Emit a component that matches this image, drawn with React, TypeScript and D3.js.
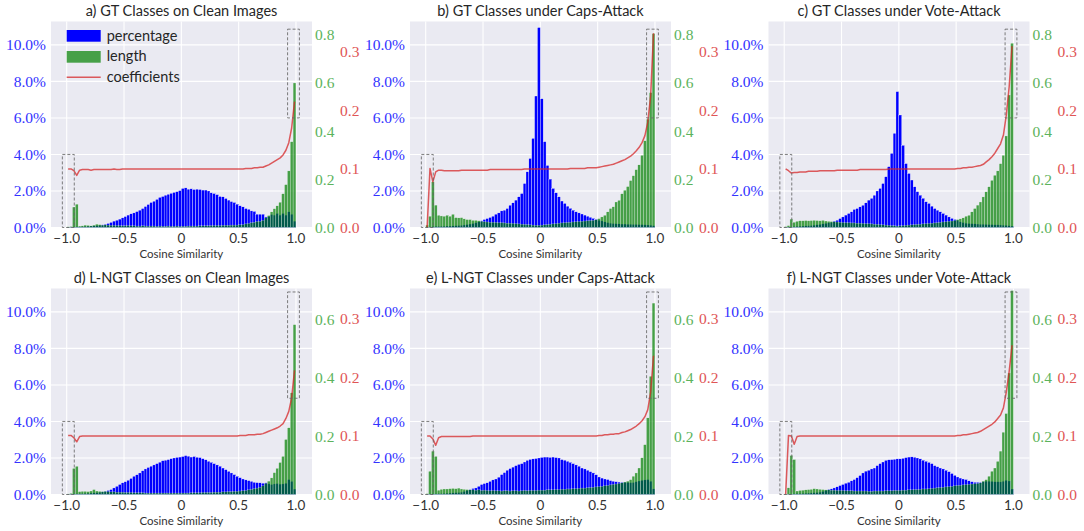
import React from 'react';
import * as d3 from 'd3';

// ---------- histogram bins (cosine similarity) ----------
const BIN_START = -1;
const BIN_WIDTH = 0.025;
const BIN_COUNT = 80;
const binLeft: number[] = d3.range(BIN_COUNT).map((i) => BIN_START + i * BIN_WIDTH);
const binCenter: number[] = binLeft.map((b) => b + BIN_WIDTH / 2);

// ---------- ticks ----------
const xTicks = [-1, -0.5, 0, 0.5, 1];
const xTickLabels = ['−1.0', '−0.5', '0', '0.5', '1.0'];
const pctTicks = [0, 2, 4, 6, 8, 10];
const lenTicksRow1 = [0, 0.2, 0.4, 0.6, 0.8];
const lenTicksRow2 = [0, 0.2, 0.4, 0.6];
const coefTicks = [0, 0.1, 0.2, 0.3];

const titles = [
  'a) GT Classes on Clean Images',
  'b) GT Classes under Caps-Attack',
  'c) GT Classes under Vote-Attack',
  'd) L-NGT Classes on Clean Images',
  'e) L-NGT Classes under Caps-Attack',
  'f) L-NGT Classes under Vote-Attack',
];
const legendLabels = ['percentage', 'length', 'coefficients'];
const xLabel = 'Cosine Similarity';

// ---------- a) GT clean ----------
const pctA = [
  0.02, 0.03, 0.04, 0.04, 0.04, 0.05, 0.06, 0.07, 0.08, 0.09,
  0.10, 0.12, 0.15, 0.18, 0.22, 0.28, 0.35, 0.40, 0.46, 0.53,
  0.60, 0.68, 0.75, 0.80, 0.87, 0.95, 1.04, 1.15, 1.26, 1.37,
  1.44, 1.54, 1.65, 1.70, 1.77, 1.82, 1.87, 1.92, 1.96, 2.02,
  2.14, 2.17, 2.10, 2.12, 2.08, 2.10, 2.08, 2.05, 2.05, 2.00,
  1.90, 1.86, 1.80, 1.70, 1.68, 1.59, 1.50, 1.42, 1.37, 1.28,
  1.19, 1.13, 1.04, 1.00, 0.91, 0.88, 0.73, 0.73, 0.73, 0.58,
  0.60, 0.71, 0.68, 0.77, 0.68, 0.77, 0.68, 0.86, 0.73, 0.35,
];
const lenA = [
  0.003, 0.004, 0.085, 0.097, 0.006, 0.007, 0.010, 0.009, 0.007, 0.010,
  0.014, 0.012, 0.010, 0.011, 0.010, 0.009, 0.009, 0.008, 0.008, 0.007,
  0.007, 0.008, 0.007, 0.007, 0.006, 0.006, 0.007, 0.006, 0.006, 0.006,
  0.006, 0.005, 0.006, 0.005, 0.005, 0.006, 0.005, 0.005, 0.006, 0.005,
  0.005, 0.005, 0.006, 0.006, 0.006, 0.006, 0.007, 0.007, 0.007, 0.007,
  0.008, 0.008, 0.008, 0.008, 0.009, 0.009, 0.009, 0.010, 0.010, 0.010,
  0.011, 0.012, 0.015, 0.017, 0.020, 0.022, 0.025, 0.026, 0.030, 0.040,
  0.050, 0.065, 0.078, 0.090, 0.105, 0.140, 0.178, 0.235, 0.356, 0.600,
];
const coefA = [
  0.100, 0.100, 0.097, 0.089, 0.098, 0.099, 0.099, 0.099, 0.098, 0.099,
  0.099, 0.099, 0.099, 0.099, 0.099, 0.099, 0.100, 0.099, 0.099, 0.100,
  0.100, 0.100, 0.100, 0.100, 0.100, 0.100, 0.100, 0.100, 0.100, 0.100,
  0.100, 0.100, 0.100, 0.100, 0.100, 0.100, 0.100, 0.100, 0.100, 0.100,
  0.100, 0.100, 0.100, 0.100, 0.100, 0.100, 0.100, 0.100, 0.100, 0.100,
  0.100, 0.100, 0.100, 0.100, 0.100, 0.100, 0.100, 0.100, 0.100, 0.100,
  0.100, 0.100, 0.101, 0.101, 0.101, 0.102, 0.102, 0.103, 0.103, 0.105,
  0.107, 0.110, 0.113, 0.116, 0.119, 0.124, 0.132, 0.145, 0.170, 0.215,
];

// ---------- b) GT caps-attack ----------
const pctB = [
  0.01, 0.03, 0.05, 0.06, 0.06, 0.07, 0.07, 0.08, 0.08, 0.09,
  0.10, 0.11, 0.12, 0.14, 0.16, 0.19, 0.22, 0.26, 0.31, 0.37,
  0.44, 0.49, 0.55, 0.62, 0.73, 0.80, 0.91, 0.95, 1.04, 1.22,
  1.35, 1.50, 1.68, 1.86, 2.41, 3.05, 3.78, 4.88, 7.20, 10.95,
  7.05, 4.70, 3.40, 2.65, 2.14, 1.90, 1.68, 1.45, 1.32, 1.17,
  1.05, 0.95, 0.86, 0.80, 0.74, 0.68, 0.62, 0.56, 0.50, 0.45,
  0.40, 0.36, 0.31, 0.27, 0.24, 0.22, 0.21, 0.20, 0.19, 0.19,
  0.18, 0.18, 0.17, 0.17, 0.16, 0.16, 0.15, 0.14, 0.13, 0.10,
];
const lenB = [
  0.010, 0.047, 0.190, 0.093, 0.051, 0.048, 0.047, 0.051, 0.047, 0.055,
  0.041, 0.040, 0.041, 0.036, 0.033, 0.033, 0.030, 0.030, 0.028, 0.026,
  0.024, 0.023, 0.022, 0.022, 0.021, 0.020, 0.020, 0.019, 0.018, 0.018,
  0.017, 0.016, 0.015, 0.014, 0.013, 0.012, 0.011, 0.010, 0.009, 0.009,
  0.010, 0.011, 0.012, 0.014, 0.015, 0.016, 0.018, 0.019, 0.020, 0.021,
  0.022, 0.023, 0.024, 0.025, 0.026, 0.027, 0.028, 0.029, 0.030, 0.032,
  0.037, 0.044, 0.051, 0.065, 0.079, 0.086, 0.106, 0.113, 0.140, 0.155,
  0.170, 0.195, 0.215, 0.240, 0.260, 0.300, 0.360, 0.450, 0.560, 0.805,
];
const coefB = [
  0.000, 0.101, 0.078, 0.095, 0.098, 0.098, 0.097, 0.097, 0.097, 0.097,
  0.097, 0.097, 0.098, 0.098, 0.098, 0.098, 0.098, 0.098, 0.098, 0.098,
  0.098, 0.098, 0.099, 0.099, 0.099, 0.099, 0.099, 0.099, 0.099, 0.099,
  0.099, 0.099, 0.099, 0.099, 0.100, 0.100, 0.100, 0.100, 0.100, 0.100,
  0.100, 0.100, 0.100, 0.100, 0.100, 0.100, 0.100, 0.100, 0.100, 0.100,
  0.101, 0.101, 0.101, 0.101, 0.101, 0.101, 0.102, 0.102, 0.102, 0.102,
  0.103, 0.104, 0.105, 0.106, 0.107, 0.108, 0.110, 0.112, 0.114, 0.116,
  0.119, 0.122, 0.126, 0.131, 0.137, 0.145, 0.157, 0.180, 0.225, 0.332,
];

// ---------- c) GT vote-attack ----------
const pctC = [
  0.02, 0.03, 0.04, 0.05, 0.06, 0.07, 0.08, 0.09, 0.10, 0.11,
  0.13, 0.15, 0.17, 0.20, 0.23, 0.26, 0.29, 0.35, 0.40, 0.49,
  0.58, 0.68, 0.77, 0.86, 0.99, 1.04, 1.13, 1.22, 1.35, 1.50,
  1.60, 1.77, 2.00, 2.14, 2.41, 2.78, 3.33, 4.06, 5.16, 7.44,
  6.16, 4.50, 3.50, 2.96, 2.60, 2.23, 1.96, 1.77, 1.60, 1.41,
  1.32, 1.17, 1.04, 0.95, 0.86, 0.77, 0.68, 0.58, 0.50, 0.44,
  0.40, 0.31, 0.27, 0.24, 0.22, 0.21, 0.20, 0.19, 0.18, 0.18,
  0.17, 0.16, 0.16, 0.15, 0.15, 0.14, 0.13, 0.12, 0.10, 0.08,
];
const lenC = [
  0.004, 0.008, 0.035, 0.022, 0.026, 0.028, 0.028, 0.029, 0.028, 0.029,
  0.030, 0.029, 0.028, 0.030, 0.027, 0.026, 0.025, 0.024, 0.023, 0.022,
  0.021, 0.020, 0.020, 0.019, 0.019, 0.018, 0.018, 0.017, 0.016, 0.016,
  0.015, 0.014, 0.013, 0.012, 0.011, 0.010, 0.009, 0.008, 0.007, 0.006,
  0.007, 0.008, 0.009, 0.010, 0.011, 0.012, 0.013, 0.014, 0.015, 0.016,
  0.017, 0.018, 0.019, 0.020, 0.022, 0.023, 0.024, 0.026, 0.027, 0.029,
  0.033, 0.036, 0.040, 0.047, 0.051, 0.065, 0.079, 0.093, 0.106, 0.127,
  0.148, 0.169, 0.196, 0.217, 0.235, 0.265, 0.300, 0.380, 0.550, 0.765,
];
const coefC = [
  0.100, 0.097, 0.093, 0.094, 0.094, 0.095, 0.095, 0.095, 0.096, 0.096,
  0.096, 0.096, 0.097, 0.097, 0.097, 0.097, 0.097, 0.097, 0.098, 0.098,
  0.098, 0.098, 0.098, 0.098, 0.098, 0.098, 0.099, 0.099, 0.099, 0.099,
  0.099, 0.099, 0.099, 0.099, 0.099, 0.099, 0.100, 0.100, 0.100, 0.100,
  0.100, 0.100, 0.100, 0.100, 0.100, 0.100, 0.100, 0.100, 0.100, 0.100,
  0.100, 0.100, 0.100, 0.100, 0.100, 0.100, 0.100, 0.100, 0.100, 0.100,
  0.101, 0.101, 0.102, 0.102, 0.103, 0.103, 0.104, 0.105, 0.106, 0.108,
  0.112, 0.116, 0.121, 0.127, 0.135, 0.143, 0.158, 0.192, 0.240, 0.310,
];

// ---------- d) L-NGT clean ----------
const pctD = [
  0.02, 0.03, 0.04, 0.04, 0.05, 0.05, 0.06, 0.07, 0.08, 0.09,
  0.10, 0.12, 0.15, 0.18, 0.22, 0.27, 0.36, 0.45, 0.55, 0.64,
  0.70, 0.78, 0.88, 1.00, 1.08, 1.18, 1.30, 1.40, 1.48, 1.55,
  1.62, 1.69, 1.77, 1.85, 1.88, 1.91, 1.96, 2.00, 2.03, 2.05,
  2.08, 2.13, 2.10, 2.05, 2.08, 2.04, 2.02, 1.96, 1.90, 1.82,
  1.76, 1.69, 1.62, 1.55, 1.45, 1.36, 1.27, 1.18, 1.09, 1.00,
  0.92, 0.85, 0.80, 0.76, 0.72, 0.67, 0.65, 0.64, 0.62, 0.64,
  0.58, 0.55, 0.58, 0.60, 0.57, 0.58, 0.62, 0.82, 0.72, 0.30,
];
const lenD = [
  0.002, 0.004, 0.090, 0.097, 0.010, 0.011, 0.011, 0.010, 0.012, 0.017,
  0.012, 0.011, 0.010, 0.011, 0.010, 0.009, 0.009, 0.008, 0.008, 0.008,
  0.007, 0.007, 0.007, 0.006, 0.006, 0.006, 0.006, 0.005, 0.005, 0.005,
  0.005, 0.005, 0.005, 0.005, 0.005, 0.005, 0.005, 0.005, 0.005, 0.005,
  0.005, 0.005, 0.005, 0.006, 0.006, 0.006, 0.006, 0.007, 0.007, 0.007,
  0.007, 0.008, 0.008, 0.008, 0.009, 0.009, 0.010, 0.010, 0.011, 0.011,
  0.012, 0.013, 0.014, 0.016, 0.018, 0.020, 0.022, 0.025, 0.030, 0.038,
  0.046, 0.057, 0.075, 0.090, 0.110, 0.131, 0.189, 0.229, 0.349, 0.583,
];
const coefD = [
  0.101, 0.101, 0.097, 0.090, 0.099, 0.100, 0.100, 0.100, 0.100, 0.100,
  0.100, 0.100, 0.100, 0.100, 0.100, 0.100, 0.100, 0.100, 0.100, 0.100,
  0.100, 0.100, 0.100, 0.100, 0.100, 0.100, 0.100, 0.100, 0.100, 0.100,
  0.100, 0.100, 0.100, 0.100, 0.100, 0.100, 0.100, 0.100, 0.100, 0.100,
  0.100, 0.100, 0.100, 0.100, 0.100, 0.100, 0.100, 0.100, 0.100, 0.100,
  0.100, 0.100, 0.100, 0.100, 0.100, 0.100, 0.100, 0.100, 0.100, 0.100,
  0.101, 0.101, 0.101, 0.102, 0.102, 0.102, 0.103, 0.103, 0.104, 0.106,
  0.108, 0.110, 0.112, 0.114, 0.117, 0.121, 0.130, 0.142, 0.165, 0.212,
];

// ---------- e) L-NGT caps-attack ----------
const pctE = [
  0.02, 0.03, 0.04, 0.04, 0.05, 0.05, 0.06, 0.07, 0.08, 0.09,
  0.10, 0.11, 0.13, 0.17, 0.22, 0.27, 0.33, 0.36, 0.45, 0.55,
  0.60, 0.64, 0.72, 0.80, 0.85, 0.95, 1.09, 1.20, 1.33, 1.42,
  1.50, 1.58, 1.65, 1.69, 1.78, 1.87, 1.92, 1.95, 1.97, 2.00,
  2.03, 2.05, 2.05, 2.03, 2.05, 2.02, 2.00, 1.91, 1.88, 1.82,
  1.76, 1.69, 1.62, 1.55, 1.45, 1.40, 1.33, 1.25, 1.18, 1.08,
  0.96, 0.90, 0.85, 0.82, 0.76, 0.73, 0.70, 0.68, 0.67, 0.67,
  0.66, 0.65, 0.66, 0.70, 0.74, 0.78, 0.80, 0.82, 0.73, 0.31,
];
const lenE = [
  0.003, 0.080, 0.149, 0.131, 0.015, 0.018, 0.019, 0.019, 0.020, 0.021,
  0.020, 0.022, 0.019, 0.018, 0.017, 0.016, 0.016, 0.015, 0.016, 0.014,
  0.015, 0.014, 0.013, 0.014, 0.013, 0.013, 0.012, 0.013, 0.013, 0.012,
  0.013, 0.013, 0.012, 0.013, 0.014, 0.013, 0.014, 0.014, 0.014, 0.015,
  0.015, 0.015, 0.016, 0.016, 0.016, 0.017, 0.017, 0.018, 0.018, 0.019,
  0.019, 0.020, 0.020, 0.021, 0.022, 0.022, 0.023, 0.024, 0.025, 0.026,
  0.027, 0.028, 0.030, 0.031, 0.033, 0.035, 0.036, 0.038, 0.040, 0.043,
  0.046, 0.051, 0.063, 0.074, 0.091, 0.126, 0.171, 0.263, 0.406, 0.657,
];
const coefE = [
  0.100, 0.100, 0.095, 0.084, 0.097, 0.099, 0.099, 0.099, 0.099, 0.099,
  0.099, 0.099, 0.099, 0.099, 0.099, 0.099, 0.100, 0.100, 0.100, 0.100,
  0.100, 0.100, 0.100, 0.100, 0.100, 0.100, 0.100, 0.100, 0.100, 0.100,
  0.100, 0.100, 0.100, 0.100, 0.100, 0.100, 0.100, 0.100, 0.100, 0.100,
  0.100, 0.100, 0.100, 0.100, 0.100, 0.100, 0.100, 0.100, 0.100, 0.100,
  0.100, 0.100, 0.100, 0.100, 0.100, 0.100, 0.100, 0.100, 0.100, 0.100,
  0.101, 0.101, 0.102, 0.102, 0.103, 0.103, 0.104, 0.104, 0.106, 0.107,
  0.109, 0.111, 0.114, 0.117, 0.121, 0.126, 0.133, 0.145, 0.175, 0.237,
];

// ---------- f) L-NGT vote-attack ----------
const pctF = [
  0.01, 0.02, 0.03, 0.04, 0.05, 0.05, 0.06, 0.07, 0.08, 0.09,
  0.10, 0.11, 0.13, 0.17, 0.22, 0.28, 0.31, 0.36, 0.42, 0.49,
  0.55, 0.62, 0.67, 0.75, 0.82, 0.92, 1.04, 1.18, 1.28, 1.33,
  1.40, 1.45, 1.58, 1.69, 1.78, 1.87, 1.90, 1.91, 1.93, 1.95,
  1.95, 1.98, 2.02, 2.05, 2.06, 2.04, 2.00, 1.95, 1.88, 1.82,
  1.76, 1.69, 1.58, 1.52, 1.45, 1.40, 1.33, 1.25, 1.15, 1.05,
  0.96, 0.90, 0.85, 0.82, 0.75, 0.70, 0.67, 0.67, 0.67, 0.70,
  0.73, 0.73, 0.72, 0.70, 0.70, 0.69, 0.73, 0.78, 0.74, 0.30,
];
const lenF = [
  0.002, 0.023, 0.134, 0.120, 0.012, 0.014, 0.015, 0.016, 0.017, 0.018,
  0.020, 0.019, 0.018, 0.017, 0.016, 0.016, 0.015, 0.015, 0.014, 0.014,
  0.014, 0.013, 0.013, 0.013, 0.012, 0.012, 0.012, 0.012, 0.012, 0.011,
  0.011, 0.012, 0.012, 0.012, 0.012, 0.013, 0.013, 0.013, 0.014, 0.014,
  0.014, 0.015, 0.015, 0.016, 0.016, 0.017, 0.017, 0.018, 0.019, 0.019,
  0.020, 0.021, 0.022, 0.023, 0.024, 0.025, 0.026, 0.027, 0.028, 0.030,
  0.031, 0.032, 0.033, 0.034, 0.035, 0.036, 0.037, 0.038, 0.040, 0.046,
  0.051, 0.063, 0.080, 0.091, 0.114, 0.149, 0.214, 0.278, 0.417, 0.700,
];
const coefF = [
  0.000, 0.101, 0.100, 0.086, 0.099, 0.100, 0.100, 0.100, 0.100, 0.100,
  0.100, 0.100, 0.100, 0.100, 0.100, 0.100, 0.100, 0.100, 0.100, 0.100,
  0.100, 0.100, 0.100, 0.100, 0.100, 0.100, 0.100, 0.100, 0.100, 0.100,
  0.100, 0.100, 0.100, 0.100, 0.100, 0.100, 0.100, 0.100, 0.100, 0.100,
  0.100, 0.100, 0.100, 0.100, 0.100, 0.100, 0.100, 0.100, 0.100, 0.100,
  0.100, 0.100, 0.100, 0.100, 0.100, 0.100, 0.100, 0.100, 0.100, 0.100,
  0.101, 0.101, 0.102, 0.102, 0.103, 0.104, 0.105, 0.106, 0.108, 0.111,
  0.114, 0.117, 0.120, 0.124, 0.130, 0.136, 0.148, 0.175, 0.210, 0.255,
];

// ---------- highlighted regions (x range, percentage range) ----------
const boxLeftX = [-1.038, -0.934];
const boxRightX = [0.927, 1.03];
const boxRow1 = { left: [0, 4.0], right: [6.0, 10.86] };
const boxRow2 = { left: [0, 4.0], right: [5.27, 11.09] };

// ---------- layout / style ----------
const W = 1084;
const H = 531;
const COL_LEFT = [51, 410, 768.5];
const ROW_TOP = [21.5, 288.5];
const PW = 261;
const PH = 206;
const X_DOMAIN: [number, number] = [-1.137, 1.14];
const PCT_MAX = 11.28;
const LEN_MAX = [0.855, 0.707];
const COEF_MAX = 0.352;

const BG = '#EAEAF2';
const BLUE = '#0000FF';
const GREEN = '#008000';
const RED = '#d62728';
const SERIF = 'Liberation Serif, DejaVu Serif, serif';
const SANS = 'Lato, Open Sans, DejaVu Sans, sans-serif';

const panels = [
  { pct: pctA, len: lenA, coef: coefA },
  { pct: pctB, len: lenB, coef: coefB },
  { pct: pctC, len: lenC, coef: coefC },
  { pct: pctD, len: lenD, coef: coefD },
  { pct: pctE, len: lenE, coef: coefE },
  { pct: pctF, len: lenF, coef: coefF },
];

function Panel({ idx }: { idx: number }) {
  const row = idx < 3 ? 0 : 1;
  const col = idx % 3;
  const left = COL_LEFT[col];
  const top = ROW_TOP[row];
  const bottom = top + PH;
  const right = left + PW;
  const d = panels[idx];

  const x = d3.scaleLinear().domain(X_DOMAIN).range([left, right]);
  const yP = d3.scaleLinear().domain([0, PCT_MAX]).range([bottom, top]);
  const yL = d3.scaleLinear().domain([0, LEN_MAX[row]]).range([bottom, top]);
  const yC = d3.scaleLinear().domain([0, COEF_MAX]).range([bottom, top]);
  const lenTicks = row === 0 ? lenTicksRow1 : lenTicksRow2;
  const boxes = row === 0 ? boxRow1 : boxRow2;

  const line = d3
    .line<number>()
    .x((_, i) => x(binCenter[i]))
    .y((v) => yC(v));

  const bw = x(BIN_WIDTH) - x(0);
  const cx = (left + right) / 2;

  return (
    <g>
      <rect x={left} y={top} width={PW} height={PH} fill={BG} />
      {pctTicks.map((t) => (
        <line key={'gy' + t} x1={left} x2={right} y1={yP(t)} y2={yP(t)} stroke="#fff" strokeWidth={1.1} />
      ))}
      {xTicks.map((t) => (
        <line key={'gx' + t} x1={x(t)} x2={x(t)} y1={top} y2={bottom} stroke="#fff" strokeWidth={1.1} />
      ))}
      {/* percentage bars */}
      <g>
        {d.pct.map((v, i) => (
          <rect
            key={'p' + i}
            x={x(binLeft[i])}
            y={yP(v)}
            width={bw}
            height={bottom - yP(v)}
            fill={BLUE}
            stroke="#fff"
            strokeWidth={0.3}
          />
        ))}
      </g>
      {/* length bars */}
      <g>
        {d.len.map((v, i) => (
          <rect
            key={'l' + i}
            x={x(binLeft[i])}
            y={yL(v)}
            width={bw}
            height={bottom - yL(v)}
            fill={GREEN}
            stroke="#fff"
            strokeWidth={0.3}
            opacity={0.7}
          />
        ))}
      </g>
      {/* coefficients line */}
      <path d={line(d.coef) || ''} fill="none" stroke={RED} strokeWidth={1.5} strokeOpacity={0.75} strokeLinejoin="round" />
      {/* highlight boxes */}
      <rect
        x={x(boxLeftX[0])}
        y={yP(boxes.left[1])}
        width={x(boxLeftX[1]) - x(boxLeftX[0])}
        height={yP(boxes.left[0]) - yP(boxes.left[1])}
        fill="none"
        stroke="#666"
        strokeWidth={1}
        strokeDasharray="3,2"
        opacity={0.85}
      />
      <rect
        x={x(boxRightX[0])}
        y={yP(boxes.right[1])}
        width={x(boxRightX[1]) - x(boxRightX[0])}
        height={yP(boxes.right[0]) - yP(boxes.right[1])}
        fill="none"
        stroke="#666"
        strokeWidth={1}
        strokeDasharray="3,2"
        opacity={0.85}
      />
      {/* title */}
      <text x={cx} y={top - 5.5} textAnchor="middle" style={{ fontFamily: SANS, fontSize: '14.5px' }} fill="#262626">
        {titles[idx]}
      </text>
      {/* x ticks */}
      {xTicks.map((t, i) => (
        <text key={'xt' + t} x={x(t)} y={bottom + 15.5} textAnchor="middle" style={{ fontFamily: SANS, fontSize: '13.5px' }} fill="#333">
          {xTickLabels[i]}
        </text>
      ))}
      <text x={x(0)} y={bottom + 30} textAnchor="middle" style={{ fontFamily: SANS, fontSize: '11.5px' }} fill="#333">
        {xLabel}
      </text>
      {/* left axis */}
      {pctTicks.map((t) => (
        <text key={'lt' + t} x={left - 5} y={yP(t)} dy="0.35em" textAnchor="end" style={{ fontFamily: SERIF, fontSize: '15.5px' }} fill="#3333ff">
          {t.toFixed(1) + '%'}
        </text>
      ))}
      {/* length axis */}
      {lenTicks.map((t) => (
        <text key={'gt' + t} x={right + 3} y={yL(t)} dy="0.35em" textAnchor="start" style={{ fontFamily: SERIF, fontSize: '15.5px' }} fill="#5cb35c">
          {t.toFixed(1)}
        </text>
      ))}
      {/* coefficient axis */}
      {coefTicks.map((t) => (
        <text key={'rt' + t} x={right + 28} y={yC(t)} dy="0.35em" textAnchor="start" style={{ fontFamily: SERIF, fontSize: '15.5px' }} fill="#e05555">
          {t.toFixed(1)}
        </text>
      ))}
      {idx === 0 && (
        <g>
          <rect x={left + 15.7} y={top + 8.5} width={34} height={11.7} fill={BLUE} />
          <rect x={left + 15.7} y={top + 29.5} width={34} height={11.7} fill={GREEN} opacity={0.7} />
          <line x1={left + 15.7} x2={left + 49.7} y1={top + 55.8} y2={top + 55.8} stroke={RED} strokeWidth={1.5} strokeOpacity={0.75} />
          {legendLabels.map((s, i) => (
            <text key={s} x={left + 55.7} y={top + 14.35 + i * 20.7} dy="0.33em" style={{ fontFamily: SANS, fontSize: '14.5px' }} fill="#262626">
              {s}
            </text>
          ))}
        </g>
      )}
    </g>
  );
}

export default function App() {
  return (
    <svg
      width={W}
      height={H}
      viewBox={`0 0 ${W} ${H}`}
      style={{ position: 'absolute', left: 0, top: 0, background: '#fff' }}
    >
      <rect x={0} y={0} width={W} height={H} fill="#fff" />
      {panels.map((_, i) => (
        <Panel key={i} idx={i} />
      ))}
    </svg>
  );
}
